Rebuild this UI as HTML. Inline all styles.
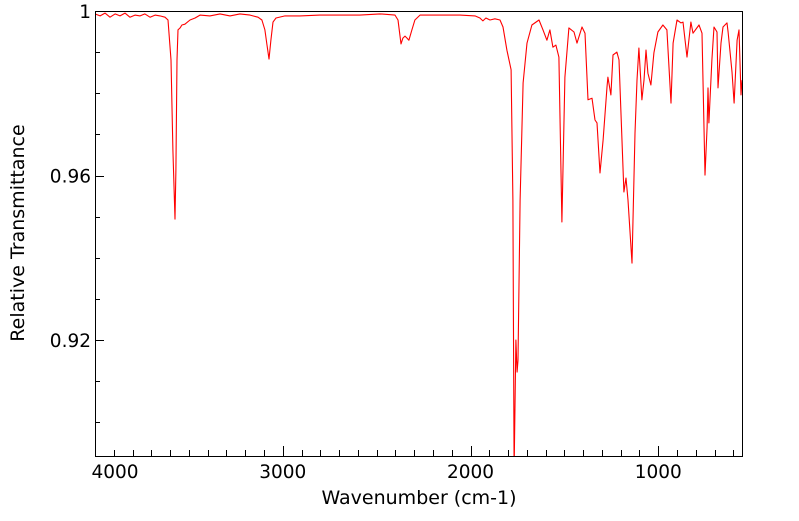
<!DOCTYPE html>
<html><head><meta charset="utf-8"><style>
html,body{margin:0;padding:0;background:#fff;}
svg text{font-family:"DejaVu Sans","Liberation Sans",sans-serif;fill:#000;}
</style></head><body>
<svg id="chart" width="799" height="516" viewBox="0 0 799 516" xmlns="http://www.w3.org/2000/svg">
<defs><clipPath id="pc"><rect x="95" y="11" width="647" height="445"/></clipPath></defs>
<g id="axes"></g>
<path id="series" clip-path="url(#pc)" fill="none" stroke="#ff0000" stroke-width="1.1" stroke-linejoin="round"/>
<rect x="95.5" y="11.5" width="647" height="445" fill="none" stroke="#000" stroke-width="1"/>
<text x="419" y="504" font-size="19" text-anchor="middle">Wavenumber (cm-1)</text>
<text x="24" y="233" font-size="19" text-anchor="middle" transform="rotate(-90 24 233)">Relative Transmittance</text>
</svg>
<script>
const wavenumbers=[4000,3973,3947,3920,3893,3867,3840,3814,3787,3760,3734,3707,3680,3654,3627,3611,3595,3585,3574,3569,3563,3558,3547,3537,3521,3494,3467,3441,3388,3334,3281,3228,3174,3132,3111,3095,3084,3073,3063,3052,3036,2988,2908,2802,2695,2589,2482,2402,2386,2370,2360,2349,2338,2328,2312,2296,2269,2163,2056,1976,1950,1934,1918,1896,1870,1843,1827,1806,1784,1774,1768,1758,1752,1747,1736,1720,1699,1673,1635,1614,1593,1577,1561,1545,1529,1513,1497,1476,1449,1433,1406,1390,1374,1353,1337,1326,1310,1294,1273,1268,1252,1241,1220,1209,1183,1172,1161,1140,1124,1113,1103,1087,1076,1065,1055,1039,1023,1002,975,954,932,921,900,879,868,847,826,815,783,767,751,740,735,730,714,703,687,682,666,655,634,628,607,596,580,570,559,554];
const transmittance=[.9993,.9988,.9995,.9985,.9993,.9988,.9995,.9985,.9990,.9988,.9993,.9985,.9990,.9988,.9985,.9978,.9881,.9662,.9494,.9613,.9881,.9954,.9959,.9966,.9968,.9978,.9983,.9990,.9988,.9993,.9988,.9993,.9990,.9985,.9978,.9954,.9917,.9883,.9929,.9973,.9983,.9988,.9988,.9990,.9990,.9990,.9993,.9990,.9978,.9920,.9934,.9939,.9934,.9929,.9954,.9978,.9990,.9990,.9990,.9988,.9983,.9976,.9983,.9978,.9981,.9978,.9961,.9905,.9857,.9540,.8880,.9200,.9122,.9151,.9540,.9825,.9922,.9966,.9978,.9954,.9929,.9954,.9912,.9917,.9888,.9487,.9839,.9959,.9949,.9922,.9961,.9946,.9784,.9788,.9735,.9728,.9606,.9686,.9815,.9839,.9796,.9893,.9900,.9881,.9560,.9594,.9540,.9387,.9703,.9832,.9910,.9784,.9832,.9905,.9849,.9820,.9898,.9949,.9966,.9954,.9776,.9922,.9978,.9971,.9973,.9888,.9973,.9946,.9966,.9946,.9601,.9718,.9813,.9728,.9881,.9961,.9949,.9813,.9922,.9961,.9971,.9949,.9852,.9776,.9929,.9954,.9796,.9832];
const xTickValues=[4000,3000,2000,1000];
const xTickLabels=["4000","3000","2000","1000"];
const yTickValues=[1,0.96,0.92];
const yTickLabels=["1","0.96","0.92"];
const X0=95,X1=742,Y0=11,Y1=456;
const xMax=4000,xMin=4000-(X1-X0)/0.18775;
const yMax=1,yMin=1-(Y1-Y0)/4112.5;
function sx(v){return X0+(xMax-v)/(xMax-xMin)*(X1-X0);}
function sy(v){return Y0+(yMax-v)/(yMax-yMin)*(Y1-Y0);}
const NS="http://www.w3.org/2000/svg";
const ax=document.getElementById('axes');
function mk(t,a){const e=document.createElementNS(NS,t);for(const k in a)e.setAttribute(k,a[k]);ax.appendChild(e);return e;}
for(let v=4000;v>=xMin;v-=100){
  const x=Math.round(sx(v))+0.5;const major=v%1000===0;
  const t=mk('line',{x1:x,x2:x,y1:Y1,y2:Y1-(major?10:6),stroke:'#000','stroke-width':1});
  
  
}
xTickValues.forEach((v,i)=>{
  const t=mk('text',{x:sx(v)+(i===0?20:0),y:478,'font-size':18.5,'text-anchor':'middle'});
  t.textContent=xTickLabels[i];
  
  
});
for(let k=0;k<=10;k++){
  const v=1-k*0.01;if(v<yMin)break;
  const y=Math.round(sy(v))+0.5;const major=(k%4===0);
  const t=mk('line',{x1:X0,x2:X0+(major?9:5),y1:y,y2:y,stroke:'#000','stroke-width':1});
  
  
}
yTickValues.forEach((v,i)=>{
  const t=mk('text',{x:91,y:sy(v)+7,'font-size':18.5,'text-anchor':'end'});
  t.textContent=yTickLabels[i];
  
  
});
let d='';
wavenumbers.forEach((w,i)=>{d+=(i?'L':'M')+sx(w).toFixed(1)+' '+sy(transmittance[i]).toFixed(1);});
document.getElementById('series').setAttribute('d',d);
</script>
</body></html>
